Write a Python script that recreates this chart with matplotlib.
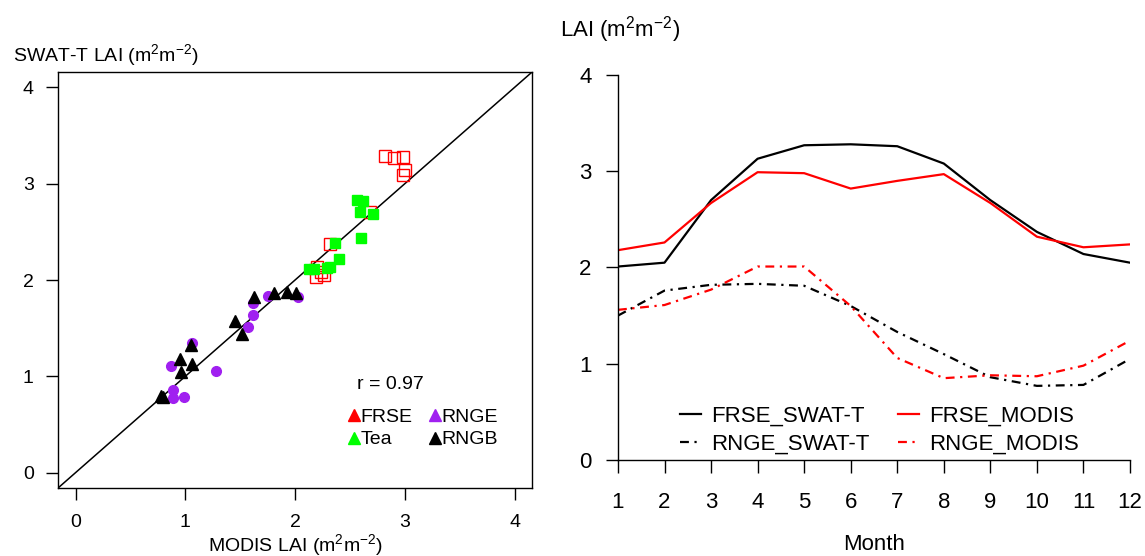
import numpy as np
import matplotlib
matplotlib.use("Agg")
import matplotlib.pyplot as plt
from matplotlib.lines import Line2D

plt.rcParams['font.family'] = ['Liberation Sans', 'DejaVu Sans']
plt.rcParams['mathtext.default'] = 'regular'

# scatter data: MODIS LAI (x) vs SWAT-T LAI (y)
frse_x = [2.82, 2.90, 2.98, 3.00, 2.98, 2.68, 2.32, 2.20, 2.19, 2.26, 2.24]
frse_y = [3.29, 3.27, 3.28, 3.14, 3.09, 2.71, 2.37, 2.14, 2.03, 2.05, 2.08]
tea_x = [2.56, 2.62, 2.59, 2.71, 2.60, 2.36, 2.40, 2.13, 2.17, 2.29, 2.32]
tea_y = [2.83, 2.82, 2.71, 2.69, 2.44, 2.38, 2.22, 2.11, 2.11, 2.12, 2.14]
rnge_x = [1.06, 0.87, 1.28, 0.89, 0.89, 0.99, 1.62, 1.62, 1.57, 1.75, 2.03]
rnge_y = [1.35, 1.11, 1.05, 0.86, 0.77, 0.79, 1.76, 1.64, 1.51, 1.83, 1.82]
rngb_x = [0.80, 0.78, 0.95, 0.96, 1.06, 1.05, 1.45, 1.52, 1.63, 1.81, 1.93, 2.01]
rngb_y = [0.79, 0.80, 1.18, 1.04, 1.13, 1.32, 1.57, 1.44, 1.82, 1.87, 1.88, 1.87]

# monthly LAI
months = list(range(1, 13))
frse_swat = [2.01, 2.05, 2.70, 3.13, 3.27, 3.28, 3.26, 3.08, 2.70, 2.37, 2.14, 2.05]
frse_modis = [2.18, 2.26, 2.67, 2.99, 2.98, 2.82, 2.90, 2.97, 2.67, 2.32, 2.21, 2.24]
rnge_swat = [1.50, 1.76, 1.82, 1.83, 1.81, 1.60, 1.33, 1.10, 0.86, 0.77, 0.78, 1.05]
rnge_modis = [1.56, 1.61, 1.77, 2.01, 2.01, 1.60, 1.06, 0.85, 0.88, 0.87, 0.98, 1.24]

purple = '#A020F0'
green = '#00FF00'
red = '#FF0000'
fs = 14      # left panel
fs2 = 16     # right panel
dotdash = (0, (4, 2.5, 1, 2.5))

fig = plt.figure(figsize=(11.45, 5.56), dpi=100)

# ---- left: scatter ----
ax1 = fig.add_axes([0.0507, 0.1223, 0.4140, 0.7482])
ax1.set_xlim(-0.16, 4.16)
ax1.set_ylim(-0.16, 4.16)
ax1.plot([-0.16, 4.16], [-0.16, 4.16], color='black', lw=1.1, zorder=1)
ax1.plot(frse_x, frse_y, 's', ms=8, mfc='none', mec=red, mew=1.0, ls='none')
ax1.plot(tea_x, tea_y, 's', ms=7, color=green, ls='none')
ax1.plot(rnge_x, rnge_y, 'o', ms=7, color=purple, ls='none')
ax1.plot(rngb_x, rngb_y, '^', ms=8.5, color='black', ls='none')
ax1.set_xticks([0, 1, 2, 3, 4])
ax1.set_yticks([0, 1, 2, 3, 4])
ax1.tick_params(axis='both', direction='out', length=8.5, width=1, labelsize=fs)
ax1.tick_params(axis='x', pad=10.5)
ax1.tick_params(axis='y', pad=9)
for s in ax1.spines.values():
    s.set_linewidth(1)
ax1.text(0.631, 0.248, 'r = 0.97', transform=ax1.transAxes, fontsize=fs,
         ha='left', va='center')
leg_handles = [Line2D([], [], marker='^', color=c, ls='none', ms=8)
               for c in [red, green, purple, 'black']]
ax1.legend(leg_handles, ['FRSE', 'Tea', 'RNGE', 'RNGB'], ncol=2,
           loc='upper left', bbox_to_anchor=(0.593, 0.215), frameon=False,
           fontsize=fs, handlelength=0.5, handletextpad=0.1,
           columnspacing=0.9, labelspacing=0.25, borderpad=0)
fig.text(13 / 1145, 1 - 55 / 556, 'SWAT-T LAI (m$^2$m$^{-2}$)', fontsize=fs,
         ha='left', va='center')
fig.text(295 / 1145, 1 - 545 / 556, 'MODIS LAI (m$^2$m$^{-2}$)', fontsize=fs,
         ha='center', va='center')

# ---- right: monthly lines ----
ax2 = fig.add_axes([0.5397, 0.1727, 0.4472, 0.6924])
ax2.plot(months, frse_swat, color='black', lw=1.6)
ax2.plot(months, rnge_swat, color='black', lw=1.6, ls=dotdash)
ax2.plot(months, frse_modis, color=red, lw=1.6)
ax2.plot(months, rnge_modis, color=red, lw=1.6, ls=dotdash)
ax2.set_xlim(1, 12)
ax2.set_ylim(0, 4)
ax2.set_xticks(months)
ax2.set_yticks([0, 1, 2, 3, 4])
ax2.spines['top'].set_visible(False)
ax2.spines['right'].set_visible(False)
for s in ax2.spines.values():
    s.set_linewidth(1)
ax2.tick_params(axis='both', direction='out', length=9, width=1, labelsize=fs2)
ax2.tick_params(axis='x', pad=14)
ax2.tick_params(axis='y', pad=10)
line_handles = [Line2D([], [], color='black', lw=1.6),
                Line2D([], [], color='black', lw=1.6, ls=dotdash),
                Line2D([], [], color=red, lw=1.6),
                Line2D([], [], color=red, lw=1.6, ls=dotdash)]
ax2.legend(line_handles, ['FRSE_SWAT-T', 'RNGE_SWAT-T', 'FRSE_MODIS', 'RNGE_MODIS'],
           ncol=2, loc='upper left', bbox_to_anchor=(0.0996, 0.169), frameon=False,
           fontsize=fs2, handlelength=0.95, handletextpad=0.45,
           columnspacing=1.26, labelspacing=0.3, borderpad=0)
fig.text(560 / 1145, 1 - 30 / 556, 'LAI (m$^2$m$^{-2}$)', fontsize=fs2,
         ha='left', va='center')
fig.text(874 / 1145, 1 - 545 / 556, 'Month', fontsize=fs2,
         ha='center', va='center')

fig.savefig('out.png', dpi=100)
